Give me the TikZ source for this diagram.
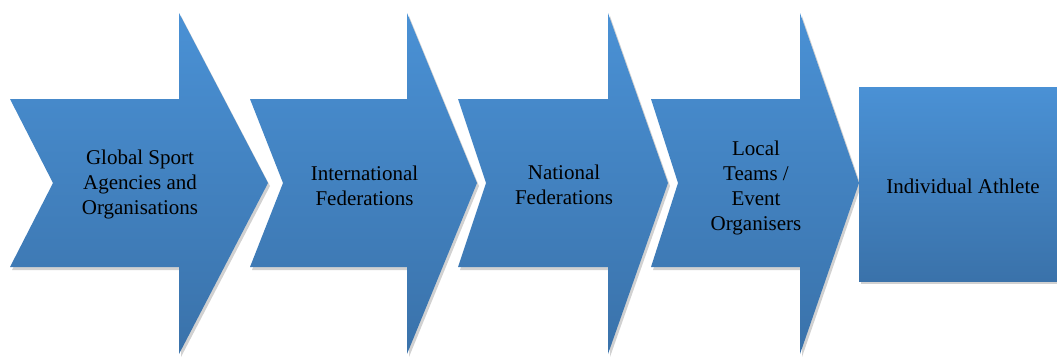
\documentclass[tikz,border=0pt]{standalone}
\usepackage{fontspec}
\setmainfont{Liberation Serif}
\usetikzlibrary{positioning}
\definecolor{stagetop}{RGB}{74,145,213}
\definecolor{stagebottom}{RGB}{58,114,170}
\tikzset{
    x=1pt, y=-1pt, % work in points, y pointing down
    stage/.style={top color=stagetop, bottom color=stagebottom}, % Blue gradient fill
    stage shadow/.style={fill=black!18}, % Soft grey drop shadow
    stagetext/.style={align=center, inner sep=0pt, font=\fontsize{21}{25}\selectfont},
}

\begin{document}
\begin{tikzpicture}
    \useasboundingbox (0,0) rectangle (1057,356);

    % chevron arrows: left, notch, head start, tip, text height
    \foreach \l/\n/\h/\t/\ty/\name/\txt in {
        10/53/179/268/184/global/{Global Sport\\Agencies and\\Organisations},
        250/283/407/477/186/intl/{International\\Federations},
        458/486/608/668/185/national/{National\\Federations},
        651/678/800/859/188/local/{Local\\Teams /\\Event\\Organisers}}
    {
        \fill[stage shadow, shift={(2,3)}]
            (\l,99) -- (\h,99) -- (\h,13) -- (\t,183) -- (\h,354)
            -- (\h,267) -- (\l,267) -- (\n,183) -- cycle;
        \path[stage]
            (\l,99) -- (\h,99) -- (\h,13) -- (\t,183) -- (\h,354)
            -- (\h,267) -- (\l,267) -- (\n,183) -- cycle;
        \node[stagetext] (\name) at ({(\l+\t)/2+1},\ty) {\txt};
    }

    % last stage is a plain box
    \fill[stage shadow] (861,90) rectangle (1072,284);
    \path[stage] (859,87) rectangle (1070,281);
    \node[stagetext] (athlete) at (963,186) {Individual Athlete};
\end{tikzpicture}
\end{document}
